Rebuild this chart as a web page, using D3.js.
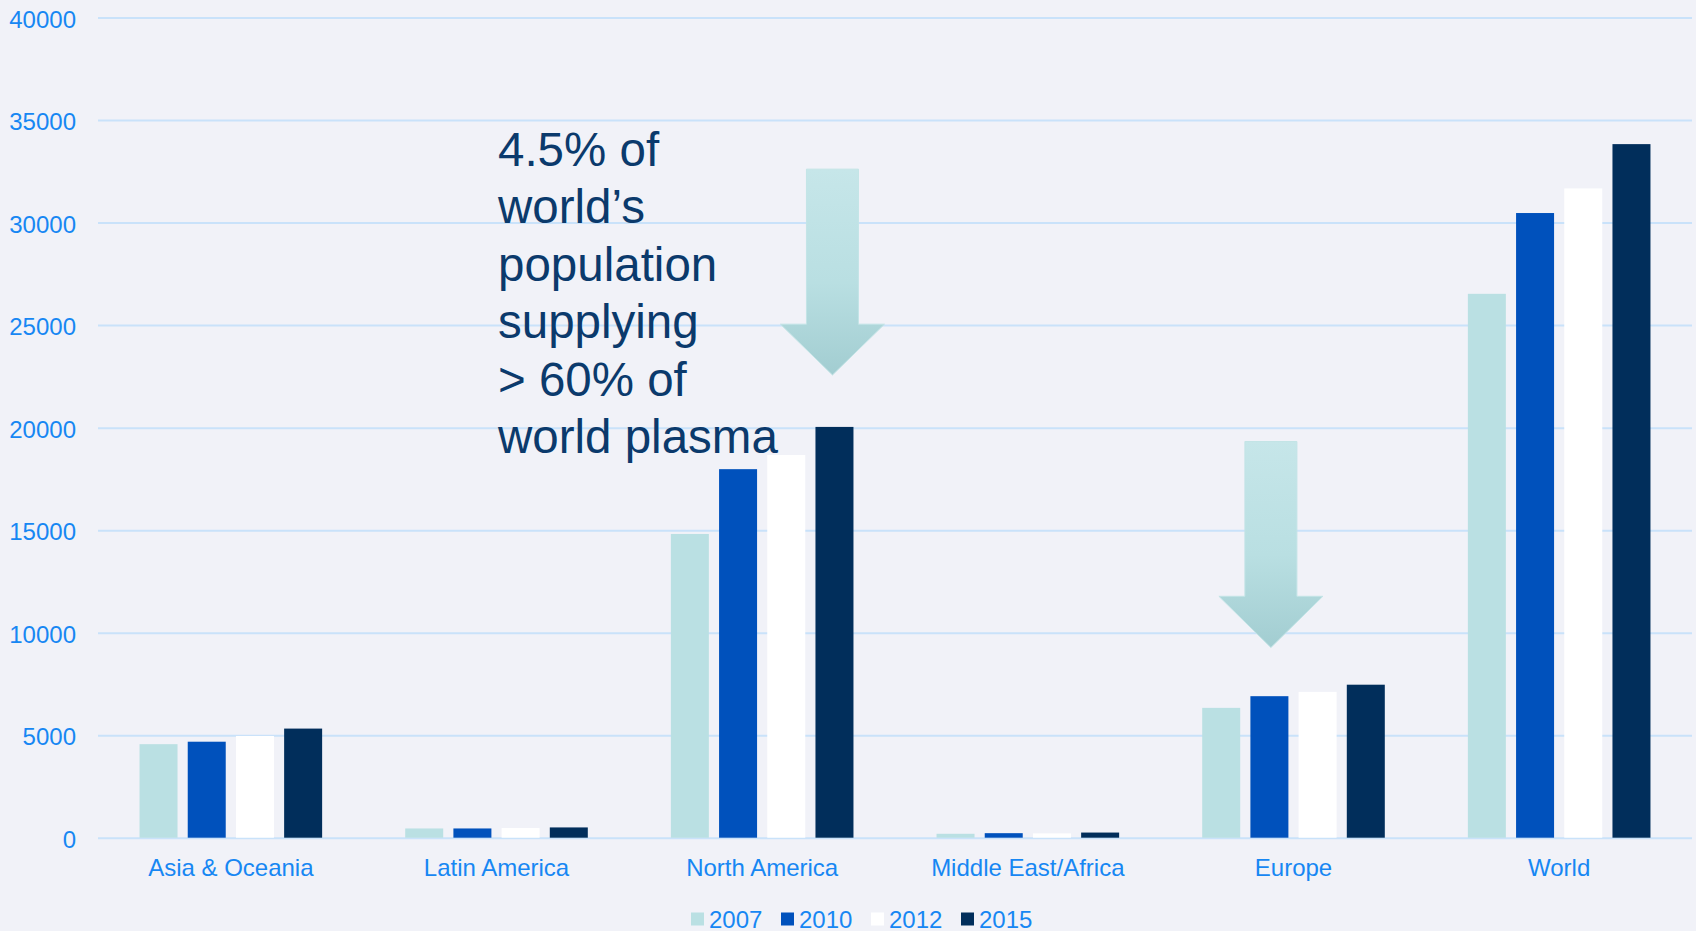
<!DOCTYPE html>
<html>
<head>
<meta charset="utf-8">
<script src="https://cdn.jsdelivr.net/npm/d3@7"></script>
<style>
  html, body { margin: 0; padding: 0; background: #f1f2f8; }
  svg { display: block; font-family: "Liberation Sans", Arial, sans-serif; }
</style>
</head>
<body>
<svg id="chart" width="1696" height="931"></svg>
<script>
// ---- data ----
const categories = ["Asia & Oceania", "Latin America", "North America", "Middle East/Africa", "Europe", "World"];
const years = ["2007", "2010", "2012", "2015"];
const v2007 = [4590, 480, 14840, 220, 6360, 26550];
const v2010 = [4710, 480, 18000, 250, 6930, 30490];
const v2012 = [4990, 500, 18690, 240, 7140, 31690];
const v2015 = [5350, 530, 20060, 280, 7490, 33850];
const yTicks = [0, 5000, 10000, 15000, 20000, 25000, 30000, 35000, 40000];
const annotationLines = ["4.5% of", "world\u2019s", "population", "supplying", "> 60% of", "world plasma"];
// arrows: category, year-bar it points at, top / head-start / tip values
const arrowCats = ["North America", "Europe"];
const arrowYears = ["2015", "2010"];
const arrowTop = [32630, 19350];
const arrowHead = [25070, 11800];
const arrowTip = [22590, 9300];

const colors = ["#bae0e3", "#0051bc", "#ffffff", "#012e5b"];
const seriesVals = [v2007, v2010, v2012, v2015];

(function () {
// ---- layout ----
const svg = d3.select("#chart");
const pLeft = 98, pRight = 1692, pTop = 18, pBottom = 838.3;
const arrowNudge = [-2, 1.5];

const x0 = d3.scaleBand().domain(categories).range([pLeft, pRight]).paddingInner(0).paddingOuter(0);
const groupW = 182.6;
const x1 = d3.scaleBand().domain(years).range([-groupW / 2, groupW / 2]).paddingInner(0.2116).paddingOuter(0);
const y = d3.scaleLinear().domain([0, 40000]).range([pBottom, pTop]);

const labelColor = "#1787f3";

// gridlines
svg.append("g").selectAll("line").data(yTicks).join("line")
  .attr("x1", pLeft).attr("x2", pRight)
  .attr("y1", d => y(d)).attr("y2", d => y(d))
  .attr("stroke", "#c9e2fa").attr("stroke-width", 2);

// y axis labels
const yAxis = d3.axisLeft(y).tickValues(yTicks).tickSize(0).tickPadding(0).tickFormat(d3.format("d"));
const yg = svg.append("g").attr("transform", `translate(${pLeft - 22},0)`).call(yAxis);
yg.select(".domain").remove();
yg.selectAll("text").attr("fill", labelColor).attr("font-size", 24)
  .attr("font-family", "'Liberation Sans', Arial, sans-serif").attr("dy", "0.38em");

// bars
const groups = svg.append("g").selectAll("g").data(categories).join("g")
  .attr("transform", d => `translate(${x0(d) + x0.bandwidth() / 2},0)`);
groups.selectAll("rect").data((c, ci) => years.map((yr, si) => ({ yr, si, v: seriesVals[si][ci] })))
  .join("rect")
  .attr("x", d => x1(d.yr))
  .attr("width", x1.bandwidth())
  .attr("y", d => y(d.v))
  .attr("height", d => y(0) - y(d.v) - 0.6)
  .attr("fill", d => colors[d.si]);

// x axis labels
const xAxis = d3.axisBottom(x0).tickSize(0).tickPadding(0);
const xg = svg.append("g").attr("transform", `translate(0,${pBottom})`).call(xAxis);
xg.select(".domain").remove();
xg.selectAll("text").attr("fill", labelColor).attr("font-size", 24)
  .attr("font-family", "'Liberation Sans', Arial, sans-serif")
  .attr("dy", null).attr("y", 37.5);

// arrows
const defs = svg.append("defs");
const grad = defs.append("linearGradient").attr("id", "arrowGrad")
  .attr("x1", 0).attr("y1", 0).attr("x2", 0).attr("y2", 1);
grad.append("stop").attr("offset", "0%").attr("stop-color", "#c6e6e9");
grad.append("stop").attr("offset", "55%").attr("stop-color", "#b9dfe2");
grad.append("stop").attr("offset", "100%").attr("stop-color", "#a2cdd1");

arrowCats.forEach((cat, i) => {
  const cx = x0(cat) + x0.bandwidth() / 2 + x1(arrowYears[i]) + x1.bandwidth() / 2 + arrowNudge[i];
  const sw = 26, hw = 52;
  const yt = y(arrowTop[i]), yh = y(arrowHead[i]), yp = y(arrowTip[i]);
  const p = d3.path();
  p.moveTo(cx - sw, yt); p.lineTo(cx + sw, yt); p.lineTo(cx + sw, yh);
  p.lineTo(cx + hw, yh); p.lineTo(cx, yp); p.lineTo(cx - hw, yh);
  p.lineTo(cx - sw, yh); p.closePath();
  svg.append("path").attr("d", p.toString())
    .attr("fill", "url(#arrowGrad)").attr("stroke", "#c3e4e6").attr("stroke-width", 1);
});

// annotation text
svg.append("g").selectAll("text").data(annotationLines).join("text")
  .attr("x", 498).attr("y", (d, i) => 166 + i * 57.4)
  .attr("font-size", 47.5).attr("fill", "#0b3a6c").text(d => d);

// legend
const legend = svg.append("g").selectAll("g").data(years).join("g")
  .attr("transform", (d, i) => `translate(${691 + i * 90},0)`);
legend.append("rect").attr("x", 0).attr("y", 912.5).attr("width", 13).attr("height", 13)
  .attr("fill", (d, i) => colors[i]);
legend.append("text").attr("x", 18).attr("y", 927.5).attr("font-size", 24)
  .attr("fill", labelColor).text(d => d);
})();
</script>
</body>
</html>
